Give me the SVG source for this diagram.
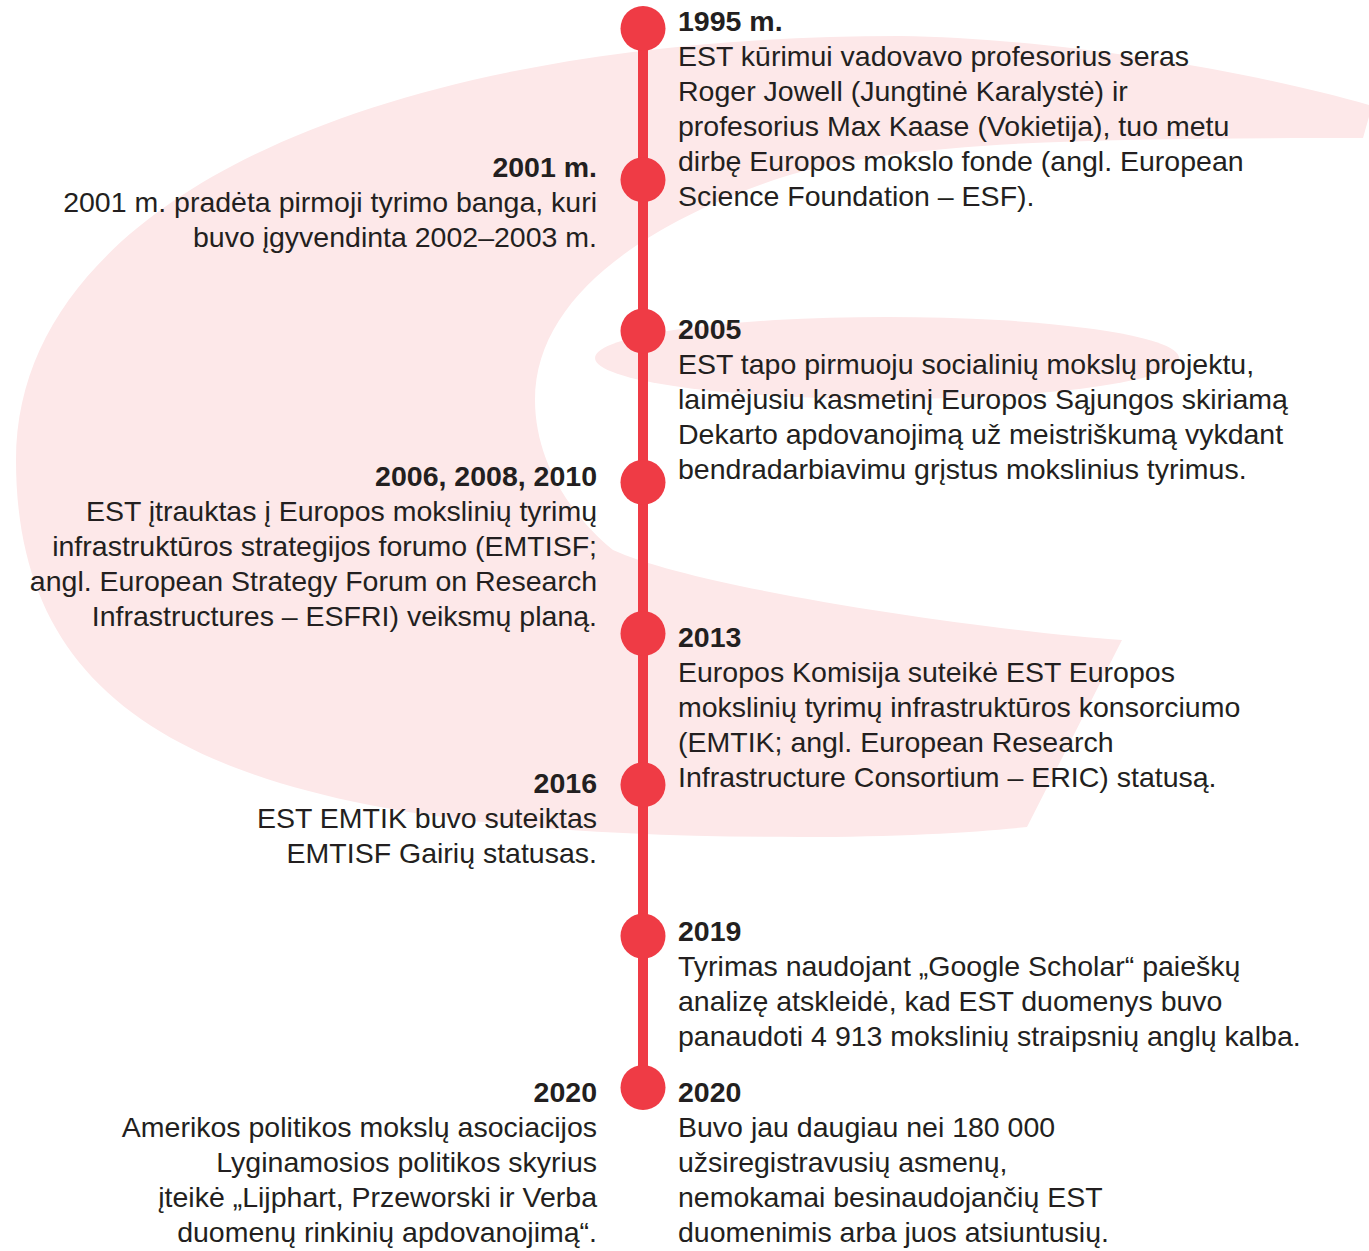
<svg xmlns="http://www.w3.org/2000/svg" width="1369" height="1251" viewBox="0 0 1369 1251">
<style>
text{font-family:"Liberation Sans",Arial,Helvetica,sans-serif;font-size:28.5px;fill:#231f20}
.h{font-weight:bold}
.l{text-anchor:end}
.dot{fill:#ef3b45}
.bg{fill:#fde8e9}
</style>
<rect width="1369" height="1251" fill="#ffffff"/>
<g id="background">
<path class="bg" d="M1372 106 C1250 70 1050 38 900 36 C380 36 16 200 16 460 C16 740 250 837 800 837 C900 837 980 832 1027 827 L1122 640 C1000 632 700 590 613 550 C570 515 535 460 535 400 C535 300 640 225 780 178 C900 140 1100 138 1363 138 Z"/>
<ellipse class="bg" cx="887" cy="358" rx="292" ry="41"/>
</g>
<g id="connectors">
<line x1="643" y1="28.5" x2="643" y2="1087.5" stroke="#ef3b45" stroke-width="10"/>
</g>
<g id="e1995">
<circle class="dot" cx="643" cy="28.5" r="22.5"/>
<text class="h" x="678" y="30.5">1995 m.</text>
<text x="678" y="65.5">EST kūrimui vadovavo profesorius seras</text>
<text x="678" y="100.5">Roger Jowell (Jungtinė Karalystė) ir</text>
<text x="678" y="135.5">profesorius Max Kaase (Vokietija), tuo metu</text>
<text x="678" y="170.5">dirbę Europos mokslo fonde (angl. European</text>
<text x="678" y="205.5">Science Foundation – ESF).</text>
</g>
<g id="e2001">
<circle class="dot" cx="643" cy="179.8" r="22.5"/>
<text class="h l" x="597" y="177">2001 m.</text>
<text class="l" x="597" y="212">2001 m. pradėta pirmoji tyrimo banga, kuri</text>
<text class="l" x="597" y="247">buvo įgyvendinta 2002–2003 m.</text>
</g>
<g id="e2005">
<circle class="dot" cx="643" cy="331" r="22.5"/>
<text class="h" x="678" y="338.5">2005</text>
<text x="678" y="373.5">EST tapo pirmuoju socialinių mokslų projektu,</text>
<text x="678" y="408.5">laimėjusiu kasmetinį Europos Sąjungos skiriamą</text>
<text x="678" y="443.5">Dekarto apdovanojimą už meistriškumą vykdant</text>
<text x="678" y="478.5">bendradarbiavimu grįstus mokslinius tyrimus.</text>
</g>
<g id="e2006">
<circle class="dot" cx="643" cy="482.3" r="22.5"/>
<text class="h l" x="597" y="485.5">2006, 2008, 2010</text>
<text class="l" x="597" y="520.5">EST įtrauktas į Europos mokslinių tyrimų</text>
<text class="l" x="597" y="555.5">infrastruktūros strategijos forumo (EMTISF;</text>
<text class="l" x="597" y="590.5">angl. European Strategy Forum on Research</text>
<text class="l" x="597" y="625.5">Infrastructures – ESFRI) veiksmų planą.</text>
</g>
<g id="e2013">
<circle class="dot" cx="643" cy="633.5" r="22.5"/>
<text class="h" x="678" y="646.5">2013</text>
<text x="678" y="681.5">Europos Komisija suteikė EST Europos</text>
<text x="678" y="716.5">mokslinių tyrimų infrastruktūros konsorciumo</text>
<text x="678" y="751.5">(EMTIK; angl. European Research</text>
<text x="678" y="786.5">Infrastructure Consortium – ERIC) statusą.</text>
</g>
<g id="e2016">
<circle class="dot" cx="643" cy="784.8" r="22.5"/>
<text class="h l" x="597" y="793">2016</text>
<text class="l" x="597" y="828">EST EMTIK buvo suteiktas</text>
<text class="l" x="597" y="863">EMTISF Gairių statusas.</text>
</g>
<g id="e2019">
<circle class="dot" cx="643" cy="936.1" r="22.5"/>
<text class="h" x="678" y="940.5">2019</text>
<text x="678" y="975.5">Tyrimas naudojant „Google Scholar“ paieškų</text>
<text x="678" y="1010.5">analizę atskleidė, kad EST duomenys buvo</text>
<text x="678" y="1045.5">panaudoti 4 913 mokslinių straipsnių anglų kalba.</text>
</g>
<g id="e2020">
<circle class="dot" cx="643" cy="1087.5" r="22.5"/>
<text class="h l" x="597" y="1101.5">2020</text>
<text class="l" x="597" y="1136.5">Amerikos politikos mokslų asociacijos</text>
<text class="l" x="597" y="1171.5">Lyginamosios politikos skyrius</text>
<text class="l" x="597" y="1206.5">įteikė „Lijphart, Przeworski ir Verba</text>
<text class="l" x="597" y="1241.5">duomenų rinkinių apdovanojimą“.</text>
<text class="h" x="678" y="1101.5">2020</text>
<text x="678" y="1136.5">Buvo jau daugiau nei 180 000</text>
<text x="678" y="1171.5">užsiregistravusių asmenų,</text>
<text x="678" y="1206.5">nemokamai besinaudojančių EST</text>
<text x="678" y="1241.5">duomenimis arba juos atsiuntusių.</text>
</g>
</svg>
